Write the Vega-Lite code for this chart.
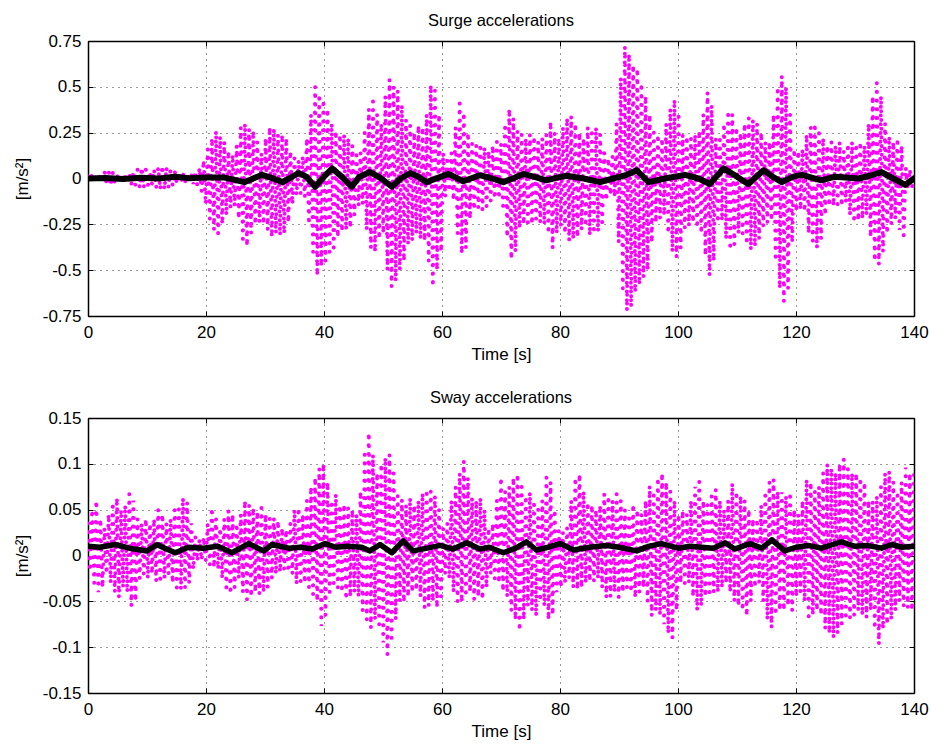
{
  "$schema": "https://vega.github.io/schema/vega-lite/v6.json",
  "background": "white",
  "padding": {"left": 13, "top": 12, "right": 10, "bottom": 5},
  "spacing": 27,
  "datasets": {
    "surge": [
      {"t":0,"v":0.01},{"t":0.35,"v":-0.01},{"t":0.7,"v":0.02},{"t":1.05,"v":-0.01},{"t":1.4,"v":0.02},{"t":1.75,"v":-0.02},{"t":2.1,"v":0.03},{"t":2.45,"v":-0.02},{"t":2.8,"v":0.04},{"t":3.15,"v":-0.03},
      {"t":3.5,"v":0.04},{"t":3.85,"v":-0.04},{"t":4.2,"v":0.03},{"t":4.55,"v":-0.03},{"t":4.9,"v":0.03},{"t":5.25,"v":-0.02},{"t":5.6,"v":0.02},{"t":5.95,"v":-0.02},{"t":6.3,"v":0.03},{"t":6.65,"v":-0.02},
      {"t":7,"v":0.03},{"t":7.35,"v":-0.03},{"t":7.7,"v":0.04},{"t":8.05,"v":-0.04},{"t":8.4,"v":0.05},{"t":8.75,"v":-0.05},{"t":9.1,"v":0.06},{"t":9.45,"v":-0.05},{"t":9.8,"v":0.05},{"t":10.15,"v":-0.04},
      {"t":10.5,"v":0.04},{"t":10.85,"v":-0.03},{"t":11.2,"v":0.05},{"t":11.55,"v":-0.05},{"t":11.9,"v":0.06},{"t":12.25,"v":-0.06},{"t":12.6,"v":0.07},{"t":12.95,"v":-0.06},{"t":13.3,"v":0.06},{"t":13.65,"v":-0.05},
      {"t":14,"v":0.05},{"t":14.35,"v":-0.04},{"t":14.7,"v":0.04},{"t":15.05,"v":-0.03},{"t":15.4,"v":0.03},{"t":15.75,"v":-0.02},{"t":16.1,"v":0.03},{"t":16.45,"v":-0.02},{"t":16.8,"v":0.02},{"t":17.15,"v":-0.02},
      {"t":17.5,"v":0.03},{"t":17.85,"v":-0.03},{"t":18.2,"v":0.04},{"t":18.55,"v":-0.04},{"t":18.9,"v":0.06},{"t":19.25,"v":-0.07},{"t":19.6,"v":0.1},{"t":19.95,"v":-0.14},{"t":20.3,"v":0.16},{"t":20.65,"v":-0.22},
      {"t":21,"v":0.22},{"t":21.35,"v":-0.28},{"t":21.7,"v":0.26},{"t":22.05,"v":-0.3},{"t":22.4,"v":0.23},{"t":22.75,"v":-0.25},{"t":23.1,"v":0.2},{"t":23.45,"v":-0.2},{"t":23.8,"v":0.15},{"t":24.15,"v":-0.16},
      {"t":24.5,"v":0.13},{"t":24.85,"v":-0.15},{"t":25.2,"v":0.18},{"t":25.55,"v":-0.22},{"t":25.9,"v":0.28},{"t":26.25,"v":-0.33},{"t":26.6,"v":0.3},{"t":26.95,"v":-0.37},{"t":27.3,"v":0.27},{"t":27.65,"v":-0.3},
      {"t":28,"v":0.26},{"t":28.35,"v":-0.25},{"t":28.7,"v":0.2},{"t":29.05,"v":-0.24},{"t":29.4,"v":0.14},{"t":29.75,"v":-0.25},{"t":30.1,"v":0.22},{"t":30.45,"v":-0.28},{"t":30.8,"v":0.28},{"t":31.15,"v":-0.32},
      {"t":31.5,"v":0.27},{"t":31.85,"v":-0.3},{"t":32.2,"v":0.24},{"t":32.55,"v":-0.31},{"t":32.9,"v":0.24},{"t":33.25,"v":-0.3},{"t":33.6,"v":0.22},{"t":33.95,"v":-0.24},{"t":34.3,"v":0.15},{"t":34.65,"v":-0.14},
      {"t":35,"v":0.11},{"t":35.35,"v":-0.09},{"t":35.7,"v":0.1},{"t":36.05,"v":-0.08},{"t":36.4,"v":0.12},{"t":36.75,"v":-0.1},{"t":37.1,"v":0.22},{"t":37.45,"v":-0.25},{"t":37.8,"v":0.35},{"t":38.15,"v":-0.4},
      {"t":38.5,"v":0.5},{"t":38.85,"v":-0.53},{"t":39.2,"v":0.46},{"t":39.55,"v":-0.48},{"t":39.9,"v":0.43},{"t":40.25,"v":-0.45},{"t":40.6,"v":0.38},{"t":40.95,"v":-0.4},{"t":41.3,"v":0.3},{"t":41.65,"v":-0.4},
      {"t":42,"v":0.26},{"t":42.35,"v":-0.32},{"t":42.7,"v":0.24},{"t":43.05,"v":-0.29},{"t":43.4,"v":0.24},{"t":43.75,"v":-0.28},{"t":44.1,"v":0.22},{"t":44.45,"v":-0.27},{"t":44.8,"v":0.18},{"t":45.15,"v":-0.2},
      {"t":45.5,"v":0.15},{"t":45.85,"v":-0.15},{"t":46.2,"v":0.14},{"t":46.55,"v":-0.14},{"t":46.9,"v":0.25},{"t":47.25,"v":-0.28},{"t":47.6,"v":0.38},{"t":47.95,"v":-0.38},{"t":48.3,"v":0.42},{"t":48.65,"v":-0.4},
      {"t":49,"v":0.35},{"t":49.35,"v":-0.33},{"t":49.7,"v":0.3},{"t":50.05,"v":-0.3},{"t":50.4,"v":0.45},{"t":50.75,"v":-0.5},{"t":51.1,"v":0.54},{"t":51.45,"v":-0.59},{"t":51.8,"v":0.5},{"t":52.15,"v":-0.56},
      {"t":52.5,"v":0.48},{"t":52.85,"v":-0.5},{"t":53.2,"v":0.4},{"t":53.55,"v":-0.45},{"t":53.9,"v":0.32},{"t":54.25,"v":-0.36},{"t":54.6,"v":0.29},{"t":54.95,"v":-0.34},{"t":55.3,"v":0.25},{"t":55.65,"v":-0.3},
      {"t":56,"v":0.29},{"t":56.35,"v":-0.33},{"t":56.7,"v":0.28},{"t":57.05,"v":-0.34},{"t":57.4,"v":0.35},{"t":57.75,"v":-0.45},{"t":58.1,"v":0.51},{"t":58.45,"v":-0.59},{"t":58.8,"v":0.48},{"t":59.15,"v":-0.5},
      {"t":59.5,"v":0.35},{"t":59.85,"v":-0.4},{"t":60.2,"v":0.14},{"t":60.55,"v":-0.1},{"t":60.9,"v":0.12},{"t":61.25,"v":-0.07},{"t":61.6,"v":0.14},{"t":61.95,"v":-0.12},{"t":62.3,"v":0.28},{"t":62.65,"v":-0.3},
      {"t":63,"v":0.41},{"t":63.35,"v":-0.41},{"t":63.7,"v":0.36},{"t":64.05,"v":-0.38},{"t":64.4,"v":0.25},{"t":64.75,"v":-0.22},{"t":65.1,"v":0.19},{"t":65.45,"v":-0.17},{"t":65.8,"v":0.18},{"t":66.15,"v":-0.16},
      {"t":66.5,"v":0.19},{"t":66.85,"v":-0.17},{"t":67.2,"v":0.17},{"t":67.55,"v":-0.15},{"t":67.9,"v":0.15},{"t":68.25,"v":-0.12},{"t":68.6,"v":0.18},{"t":68.95,"v":-0.11},{"t":69.3,"v":0.2},{"t":69.65,"v":-0.11},
      {"t":70,"v":0.19},{"t":70.35,"v":-0.15},{"t":70.7,"v":0.3},{"t":71.05,"v":-0.32},{"t":71.4,"v":0.38},{"t":71.75,"v":-0.44},{"t":72.1,"v":0.33},{"t":72.45,"v":-0.4},{"t":72.8,"v":0.26},{"t":73.15,"v":-0.27},
      {"t":73.5,"v":0.24},{"t":73.85,"v":-0.25},{"t":74.2,"v":0.22},{"t":74.55,"v":-0.24},{"t":74.9,"v":0.24},{"t":75.25,"v":-0.25},{"t":75.6,"v":0.23},{"t":75.95,"v":-0.22},{"t":76.3,"v":0.2},{"t":76.65,"v":-0.24},
      {"t":77,"v":0.22},{"t":77.35,"v":-0.25},{"t":77.7,"v":0.24},{"t":78.05,"v":-0.3},{"t":78.4,"v":0.31},{"t":78.75,"v":-0.38},{"t":79.1,"v":0.25},{"t":79.45,"v":-0.3},{"t":79.8,"v":0.22},{"t":80.15,"v":-0.26},
      {"t":80.5,"v":0.28},{"t":80.85,"v":-0.3},{"t":81.2,"v":0.33},{"t":81.55,"v":-0.34},{"t":81.9,"v":0.34},{"t":82.25,"v":-0.33},{"t":82.6,"v":0.3},{"t":82.95,"v":-0.32},{"t":83.3,"v":0.25},{"t":83.65,"v":-0.28},
      {"t":84,"v":0.22},{"t":84.35,"v":-0.26},{"t":84.7,"v":0.28},{"t":85.05,"v":-0.31},{"t":85.4,"v":0.27},{"t":85.75,"v":-0.3},{"t":86.1,"v":0.28},{"t":86.45,"v":-0.29},{"t":86.8,"v":0.24},{"t":87.15,"v":-0.24},
      {"t":87.5,"v":0.14},{"t":87.85,"v":-0.12},{"t":88.2,"v":0.11},{"t":88.55,"v":-0.09},{"t":88.9,"v":0.12},{"t":89.25,"v":-0.1},{"t":89.6,"v":0.3},{"t":89.95,"v":-0.35},{"t":90.3,"v":0.55},{"t":90.65,"v":-0.6},
      {"t":91,"v":0.72},{"t":91.35,"v":-0.72},{"t":91.7,"v":0.68},{"t":92.05,"v":-0.7},{"t":92.4,"v":0.62},{"t":92.75,"v":-0.62},{"t":93.1,"v":0.6},{"t":93.45,"v":-0.58},{"t":93.8,"v":0.52},{"t":94.15,"v":-0.54},
      {"t":94.5,"v":0.45},{"t":94.85,"v":-0.5},{"t":95.2,"v":0.35},{"t":95.55,"v":-0.35},{"t":95.9,"v":0.25},{"t":96.25,"v":-0.24},{"t":96.6,"v":0.24},{"t":96.95,"v":-0.22},{"t":97.3,"v":0.22},{"t":97.65,"v":-0.2},
      {"t":98,"v":0.3},{"t":98.35,"v":-0.3},{"t":98.7,"v":0.38},{"t":99.05,"v":-0.4},{"t":99.4,"v":0.43},{"t":99.75,"v":-0.43},{"t":100.1,"v":0.36},{"t":100.45,"v":-0.38},{"t":100.8,"v":0.24},{"t":101.15,"v":-0.27},
      {"t":101.5,"v":0.23},{"t":101.85,"v":-0.26},{"t":102.2,"v":0.22},{"t":102.55,"v":-0.24},{"t":102.9,"v":0.24},{"t":103.25,"v":-0.27},{"t":103.6,"v":0.26},{"t":103.95,"v":-0.3},{"t":104.3,"v":0.35},{"t":104.65,"v":-0.42},
      {"t":105,"v":0.47},{"t":105.35,"v":-0.53},{"t":105.7,"v":0.4},{"t":106.05,"v":-0.45},{"t":106.4,"v":0.22},{"t":106.75,"v":-0.24},{"t":107.1,"v":0.21},{"t":107.45,"v":-0.23},{"t":107.8,"v":0.3},{"t":108.15,"v":-0.33},
      {"t":108.5,"v":0.37},{"t":108.85,"v":-0.39},{"t":109.2,"v":0.35},{"t":109.55,"v":-0.36},{"t":109.9,"v":0.28},{"t":110.25,"v":-0.3},{"t":110.6,"v":0.25},{"t":110.95,"v":-0.3},{"t":111.3,"v":0.3},{"t":111.65,"v":-0.36},
      {"t":112,"v":0.33},{"t":112.35,"v":-0.39},{"t":112.7,"v":0.32},{"t":113.05,"v":-0.37},{"t":113.4,"v":0.3},{"t":113.75,"v":-0.33},{"t":114.1,"v":0.25},{"t":114.45,"v":-0.26},{"t":114.8,"v":0.2},{"t":115.15,"v":-0.24},
      {"t":115.5,"v":0.2},{"t":115.85,"v":-0.23},{"t":116.2,"v":0.35},{"t":116.55,"v":-0.45},{"t":116.9,"v":0.5},{"t":117.25,"v":-0.6},{"t":117.6,"v":0.56},{"t":117.95,"v":-0.67},{"t":118.3,"v":0.5},{"t":118.65,"v":-0.6},
      {"t":119,"v":0.35},{"t":119.35,"v":-0.35},{"t":119.7,"v":0.16},{"t":120.05,"v":-0.18},{"t":120.4,"v":0.15},{"t":120.75,"v":-0.17},{"t":121.1,"v":0.16},{"t":121.45,"v":-0.18},{"t":121.8,"v":0.24},{"t":122.15,"v":-0.3},
      {"t":122.5,"v":0.28},{"t":122.85,"v":-0.34},{"t":123.2,"v":0.3},{"t":123.55,"v":-0.38},{"t":123.9,"v":0.27},{"t":124.25,"v":-0.33},{"t":124.6,"v":0.22},{"t":124.95,"v":-0.2},{"t":125.3,"v":0.18},{"t":125.65,"v":-0.15},
      {"t":126,"v":0.2},{"t":126.35,"v":-0.15},{"t":126.7,"v":0.18},{"t":127.05,"v":-0.14},{"t":127.4,"v":0.2},{"t":127.75,"v":-0.15},{"t":128.1,"v":0.15},{"t":128.45,"v":-0.13},{"t":128.8,"v":0.19},{"t":129.15,"v":-0.2},
      {"t":129.5,"v":0.2},{"t":129.85,"v":-0.24},{"t":130.2,"v":0.19},{"t":130.55,"v":-0.23},{"t":130.9,"v":0.2},{"t":131.25,"v":-0.22},{"t":131.6,"v":0.18},{"t":131.95,"v":-0.2},{"t":132.3,"v":0.3},{"t":132.65,"v":-0.32},
      {"t":133,"v":0.45},{"t":133.35,"v":-0.45},{"t":133.7,"v":0.52},{"t":134.05,"v":-0.47},{"t":134.4,"v":0.45},{"t":134.75,"v":-0.4},{"t":135.1,"v":0.3},{"t":135.45,"v":-0.3},{"t":135.8,"v":0.23},{"t":136.15,"v":-0.25},
      {"t":136.5,"v":0.2},{"t":136.85,"v":-0.22},{"t":137.2,"v":0.22},{"t":137.55,"v":-0.28},{"t":137.9,"v":0.18},{"t":138.25,"v":-0.31},{"t":138.6,"v":0.06},{"t":138.95,"v":-0.06},{"t":139.3,"v":0.05},{"t":139.65,"v":-0.05},
      {"t":140,"v":0.04}
    ],
    "surgeLF": [
      {"t":0,"v":0},{"t":3,"v":0.003},{"t":6,"v":-0.003},{"t":9,"v":0.004},{"t":12,"v":0},{"t":14.8,"v":0.01},{"t":17,"v":0.002},{"t":20,"v":0.005},{"t":23,"v":0.006},{"t":26.5,"v":-0.02},
      {"t":28,"v":0},{"t":29.5,"v":0.02},{"t":31,"v":0.005},{"t":33,"v":-0.02},{"t":35.7,"v":0.03},{"t":37,"v":0.01},{"t":38.5,"v":-0.045},{"t":40,"v":0.01},{"t":41.4,"v":0.055},{"t":43,"v":0.01},
      {"t":44.7,"v":-0.045},{"t":46,"v":0.01},{"t":47.8,"v":0.035},{"t":49.5,"v":0.005},{"t":51.5,"v":-0.045},{"t":53,"v":0},{"t":54.6,"v":0.03},{"t":56,"v":0.01},{"t":57.4,"v":-0.02},{"t":59,"v":0},
      {"t":61.1,"v":0.025},{"t":63.6,"v":-0.015},{"t":66.4,"v":0.018},{"t":68.5,"v":0},{"t":70.4,"v":-0.02},{"t":72,"v":0},{"t":73.8,"v":0.025},{"t":75.5,"v":0.01},{"t":77.7,"v":-0.01},{"t":79.5,"v":0.005},
      {"t":81.1,"v":0.015},{"t":84,"v":0},{"t":86.8,"v":-0.02},{"t":89,"v":0},{"t":91.3,"v":0.02},{"t":93,"v":0.045},{"t":95,"v":-0.02},{"t":97.8,"v":0},{"t":101.2,"v":0.02},{"t":103.5,"v":0},
      {"t":105.4,"v":-0.03},{"t":107.7,"v":0.055},{"t":110,"v":0.01},{"t":111.9,"v":-0.03},{"t":114.5,"v":0.045},{"t":116,"v":0.01},{"t":117.6,"v":-0.02},{"t":119.5,"v":0.01},{"t":121,"v":0.02},{"t":124.3,"v":-0.01},
      {"t":126.6,"v":0.01},{"t":130.6,"v":0},{"t":132.5,"v":0.015},{"t":134.5,"v":0.035},{"t":136.5,"v":0},{"t":138.5,"v":-0.035},{"t":140,"v":0}
    ],
    "sway": [
      {"t":0,"v":0.035},{"t":0.35,"v":-0.017},{"t":0.7,"v":0.05},{"t":1.05,"v":-0.03},{"t":1.4,"v":0.06},{"t":1.75,"v":-0.04},{"t":2.1,"v":0.04},{"t":2.45,"v":-0.035},{"t":2.8,"v":0.03},{"t":3.15,"v":-0.02},
      {"t":3.5,"v":0.045},{"t":3.85,"v":-0.03},{"t":4.2,"v":0.058},{"t":4.55,"v":-0.04},{"t":4.9,"v":0.063},{"t":5.25,"v":-0.046},{"t":5.6,"v":0.05},{"t":5.95,"v":-0.035},{"t":6.3,"v":0.055},{"t":6.65,"v":-0.04},
      {"t":7,"v":0.067},{"t":7.35,"v":-0.055},{"t":7.7,"v":0.06},{"t":8.05,"v":-0.05},{"t":8.4,"v":0.04},{"t":8.75,"v":-0.025},{"t":9.1,"v":0.035},{"t":9.45,"v":-0.02},{"t":9.8,"v":0.04},{"t":10.15,"v":-0.025},
      {"t":10.5,"v":0.035},{"t":10.85,"v":-0.02},{"t":11.2,"v":0.04},{"t":11.55,"v":-0.028},{"t":11.9,"v":0.05},{"t":12.25,"v":-0.03},{"t":12.6,"v":0.045},{"t":12.95,"v":-0.025},{"t":13.3,"v":0.035},{"t":13.65,"v":-0.02},
      {"t":14,"v":0.04},{"t":14.35,"v":-0.03},{"t":14.7,"v":0.05},{"t":15.05,"v":-0.035},{"t":15.4,"v":0.055},{"t":15.75,"v":-0.037},{"t":16.1,"v":0.063},{"t":16.45,"v":-0.035},{"t":16.8,"v":0.058},{"t":17.15,"v":-0.03},
      {"t":17.5,"v":0.035},{"t":17.85,"v":-0.015},{"t":18.2,"v":0.02},{"t":18.55,"v":-0.006},{"t":18.9,"v":0.018},{"t":19.25,"v":-0.005},{"t":19.6,"v":0.02},{"t":19.95,"v":-0.005},{"t":20.3,"v":0.035},{"t":20.65,"v":-0.01},
      {"t":21,"v":0.052},{"t":21.35,"v":-0.013},{"t":21.7,"v":0.04},{"t":22.05,"v":-0.015},{"t":22.4,"v":0.03},{"t":22.75,"v":-0.025},{"t":23.1,"v":0.04},{"t":23.45,"v":-0.035},{"t":23.8,"v":0.049},{"t":24.15,"v":-0.042},
      {"t":24.5,"v":0.045},{"t":24.85,"v":-0.035},{"t":25.2,"v":0.035},{"t":25.55,"v":-0.025},{"t":25.9,"v":0.045},{"t":26.25,"v":-0.04},{"t":26.6,"v":0.06},{"t":26.95,"v":-0.048},{"t":27.3,"v":0.055},{"t":27.65,"v":-0.045},
      {"t":28,"v":0.052},{"t":28.35,"v":-0.04},{"t":28.7,"v":0.048},{"t":29.05,"v":-0.042},{"t":29.4,"v":0.052},{"t":29.75,"v":-0.04},{"t":30.1,"v":0.045},{"t":30.45,"v":-0.035},{"t":30.8,"v":0.04},{"t":31.15,"v":-0.025},
      {"t":31.5,"v":0.041},{"t":31.85,"v":-0.02},{"t":32.2,"v":0.038},{"t":32.55,"v":-0.018},{"t":32.9,"v":0.03},{"t":33.25,"v":-0.015},{"t":33.6,"v":0.028},{"t":33.95,"v":-0.018},{"t":34.3,"v":0.035},{"t":34.65,"v":-0.02},
      {"t":35,"v":0.05},{"t":35.35,"v":-0.031},{"t":35.7,"v":0.052},{"t":36.05,"v":-0.028},{"t":36.4,"v":0.045},{"t":36.75,"v":-0.03},{"t":37.1,"v":0.06},{"t":37.45,"v":-0.035},{"t":37.8,"v":0.075},{"t":38.15,"v":-0.042},
      {"t":38.5,"v":0.085},{"t":38.85,"v":-0.05},{"t":39.2,"v":0.095},{"t":39.55,"v":-0.077},{"t":39.9,"v":0.1},{"t":40.25,"v":-0.065},{"t":40.6,"v":0.08},{"t":40.95,"v":-0.04},{"t":41.3,"v":0.06},{"t":41.65,"v":-0.03},
      {"t":42,"v":0.067},{"t":42.35,"v":-0.035},{"t":42.7,"v":0.055},{"t":43.05,"v":-0.04},{"t":43.4,"v":0.056},{"t":43.75,"v":-0.048},{"t":44.1,"v":0.052},{"t":44.45,"v":-0.045},{"t":44.8,"v":0.05},{"t":45.15,"v":-0.04},
      {"t":45.5,"v":0.045},{"t":45.85,"v":-0.045},{"t":46.2,"v":0.07},{"t":46.55,"v":-0.06},{"t":46.9,"v":0.11},{"t":47.25,"v":-0.07},{"t":47.6,"v":0.134},{"t":47.95,"v":-0.079},{"t":48.3,"v":0.11},{"t":48.65,"v":-0.07},
      {"t":49,"v":0.09},{"t":49.35,"v":-0.075},{"t":49.7,"v":0.1},{"t":50.05,"v":-0.095},{"t":50.4,"v":0.107},{"t":50.75,"v":-0.108},{"t":51.1,"v":0.11},{"t":51.45,"v":-0.09},{"t":51.8,"v":0.09},{"t":52.15,"v":-0.07},
      {"t":52.5,"v":0.065},{"t":52.85,"v":-0.05},{"t":53.2,"v":0.061},{"t":53.55,"v":-0.051},{"t":53.9,"v":0.055},{"t":54.25,"v":-0.045},{"t":54.6,"v":0.063},{"t":54.95,"v":-0.04},{"t":55.3,"v":0.055},{"t":55.65,"v":-0.038},
      {"t":56,"v":0.06},{"t":56.35,"v":-0.045},{"t":56.7,"v":0.068},{"t":57.05,"v":-0.057},{"t":57.4,"v":0.072},{"t":57.75,"v":-0.055},{"t":58.1,"v":0.07},{"t":58.45,"v":-0.05},{"t":58.8,"v":0.065},{"t":59.15,"v":-0.057},
      {"t":59.5,"v":0.05},{"t":59.85,"v":-0.045},{"t":60.2,"v":0.03},{"t":60.55,"v":-0.02},{"t":60.9,"v":0.035},{"t":61.25,"v":-0.025},{"t":61.6,"v":0.06},{"t":61.95,"v":-0.04},{"t":62.3,"v":0.075},{"t":62.65,"v":-0.05},
      {"t":63,"v":0.09},{"t":63.35,"v":-0.051},{"t":63.7,"v":0.103},{"t":64.05,"v":-0.045},{"t":64.4,"v":0.085},{"t":64.75,"v":-0.04},{"t":65.1,"v":0.063},{"t":65.45,"v":-0.048},{"t":65.8,"v":0.06},{"t":66.15,"v":-0.045},
      {"t":66.5,"v":0.063},{"t":66.85,"v":-0.048},{"t":67.2,"v":0.05},{"t":67.55,"v":-0.035},{"t":67.9,"v":0.03},{"t":68.25,"v":-0.02},{"t":68.6,"v":0.035},{"t":68.95,"v":-0.025},{"t":69.3,"v":0.06},{"t":69.65,"v":-0.03},
      {"t":70,"v":0.085},{"t":70.35,"v":-0.039},{"t":70.7,"v":0.07},{"t":71.05,"v":-0.045},{"t":71.4,"v":0.075},{"t":71.75,"v":-0.06},{"t":72.1,"v":0.085},{"t":72.45,"v":-0.07},{"t":72.8,"v":0.089},{"t":73.15,"v":-0.082},
      {"t":73.5,"v":0.075},{"t":73.85,"v":-0.07},{"t":74.2,"v":0.065},{"t":74.55,"v":-0.055},{"t":74.9,"v":0.069},{"t":75.25,"v":-0.06},{"t":75.6,"v":0.06},{"t":75.95,"v":-0.066},{"t":76.3,"v":0.05},{"t":76.65,"v":-0.05},
      {"t":77,"v":0.06},{"t":77.35,"v":-0.055},{"t":77.7,"v":0.085},{"t":78.05,"v":-0.07},{"t":78.4,"v":0.08},{"t":78.75,"v":-0.065},{"t":79.1,"v":0.05},{"t":79.45,"v":-0.04},{"t":79.8,"v":0.027},{"t":80.15,"v":-0.035},
      {"t":80.5,"v":0.025},{"t":80.85,"v":-0.03},{"t":81.2,"v":0.03},{"t":81.55,"v":-0.025},{"t":81.9,"v":0.06},{"t":82.25,"v":-0.035},{"t":82.6,"v":0.085},{"t":82.95,"v":-0.037},{"t":83.3,"v":0.089},{"t":83.65,"v":-0.035},
      {"t":84,"v":0.07},{"t":84.35,"v":-0.03},{"t":84.7,"v":0.058},{"t":85.05,"v":-0.028},{"t":85.4,"v":0.055},{"t":85.75,"v":-0.028},{"t":86.1,"v":0.05},{"t":86.45,"v":-0.025},{"t":86.8,"v":0.055},{"t":87.15,"v":-0.035},
      {"t":87.5,"v":0.067},{"t":87.85,"v":-0.046},{"t":88.2,"v":0.065},{"t":88.55,"v":-0.045},{"t":88.9,"v":0.06},{"t":89.25,"v":-0.04},{"t":89.6,"v":0.067},{"t":89.95,"v":-0.046},{"t":90.3,"v":0.06},{"t":90.65,"v":-0.04},
      {"t":91,"v":0.05},{"t":91.35,"v":-0.035},{"t":91.7,"v":0.045},{"t":92.05,"v":-0.04},{"t":92.4,"v":0.056},{"t":92.75,"v":-0.046},{"t":93.1,"v":0.05},{"t":93.45,"v":-0.04},{"t":93.8,"v":0.045},{"t":94.15,"v":-0.035},
      {"t":94.5,"v":0.06},{"t":94.85,"v":-0.05},{"t":95.2,"v":0.076},{"t":95.55,"v":-0.066},{"t":95.9,"v":0.07},{"t":96.25,"v":-0.06},{"t":96.6,"v":0.085},{"t":96.95,"v":-0.065},{"t":97.3,"v":0.09},{"t":97.65,"v":-0.075},
      {"t":98,"v":0.08},{"t":98.35,"v":-0.085},{"t":98.7,"v":0.07},{"t":99.05,"v":-0.09},{"t":99.4,"v":0.06},{"t":99.75,"v":-0.06},{"t":100.1,"v":0.045},{"t":100.45,"v":-0.03},{"t":100.8,"v":0.049},{"t":101.15,"v":-0.03},
      {"t":101.5,"v":0.045},{"t":101.85,"v":-0.03},{"t":102.2,"v":0.06},{"t":102.55,"v":-0.045},{"t":102.9,"v":0.075},{"t":103.25,"v":-0.06},{"t":103.6,"v":0.085},{"t":103.95,"v":-0.055},{"t":104.3,"v":0.06},{"t":104.65,"v":-0.045},
      {"t":105,"v":0.055},{"t":105.35,"v":-0.04},{"t":105.7,"v":0.065},{"t":106.05,"v":-0.04},{"t":106.4,"v":0.072},{"t":106.75,"v":-0.04},{"t":107.1,"v":0.06},{"t":107.45,"v":-0.035},{"t":107.8,"v":0.05},{"t":108.15,"v":-0.03},
      {"t":108.5,"v":0.06},{"t":108.85,"v":-0.04},{"t":109.2,"v":0.079},{"t":109.55,"v":-0.05},{"t":109.9,"v":0.07},{"t":110.25,"v":-0.055},{"t":110.6,"v":0.065},{"t":110.95,"v":-0.06},{"t":111.3,"v":0.06},{"t":111.65,"v":-0.066},
      {"t":112,"v":0.05},{"t":112.35,"v":-0.05},{"t":112.7,"v":0.04},{"t":113.05,"v":-0.035},{"t":113.4,"v":0.04},{"t":113.75,"v":-0.03},{"t":114.1,"v":0.055},{"t":114.45,"v":-0.05},{"t":114.8,"v":0.07},{"t":115.15,"v":-0.07},
      {"t":115.5,"v":0.08},{"t":115.85,"v":-0.079},{"t":116.2,"v":0.083},{"t":116.55,"v":-0.065},{"t":116.9,"v":0.07},{"t":117.25,"v":-0.06},{"t":117.6,"v":0.069},{"t":117.95,"v":-0.06},{"t":118.3,"v":0.065},{"t":118.65,"v":-0.055},
      {"t":119,"v":0.069},{"t":119.35,"v":-0.06},{"t":119.7,"v":0.05},{"t":120.05,"v":-0.045},{"t":120.4,"v":0.045},{"t":120.75,"v":-0.04},{"t":121.1,"v":0.06},{"t":121.45,"v":-0.05},{"t":121.8,"v":0.083},{"t":122.15,"v":-0.071},
      {"t":122.5,"v":0.08},{"t":122.85,"v":-0.065},{"t":123.2,"v":0.07},{"t":123.55,"v":-0.06},{"t":123.9,"v":0.075},{"t":124.25,"v":-0.065},{"t":124.6,"v":0.09},{"t":124.95,"v":-0.08},{"t":125.3,"v":0.1},{"t":125.65,"v":-0.085},
      {"t":126,"v":0.095},{"t":126.35,"v":-0.09},{"t":126.7,"v":0.09},{"t":127.05,"v":-0.085},{"t":127.4,"v":0.1},{"t":127.75,"v":-0.075},{"t":128.1,"v":0.105},{"t":128.45,"v":-0.07},{"t":128.8,"v":0.095},{"t":129.15,"v":-0.068},
      {"t":129.5,"v":0.09},{"t":129.85,"v":-0.065},{"t":130.2,"v":0.09},{"t":130.55,"v":-0.06},{"t":130.9,"v":0.085},{"t":131.25,"v":-0.065},{"t":131.6,"v":0.08},{"t":131.95,"v":-0.068},{"t":132.3,"v":0.06},{"t":132.65,"v":-0.06},
      {"t":133,"v":0.059},{"t":133.35,"v":-0.08},{"t":133.7,"v":0.065},{"t":134.05,"v":-0.097},{"t":134.4,"v":0.075},{"t":134.75,"v":-0.08},{"t":135.1,"v":0.09},{"t":135.45,"v":-0.075},{"t":135.8,"v":0.092},{"t":136.15,"v":-0.07},
      {"t":136.5,"v":0.08},{"t":136.85,"v":-0.06},{"t":137.2,"v":0.07},{"t":137.55,"v":-0.05},{"t":137.9,"v":0.08},{"t":138.25,"v":-0.055},{"t":138.6,"v":0.096},{"t":138.95,"v":-0.057},{"t":139.3,"v":0.09},{"t":139.65,"v":-0.06},
      {"t":140,"v":0.09}
    ],
    "swayLF": [
      {"t":0,"v":0.01},{"t":2,"v":0.009},{"t":4.6,"v":0.012},{"t":7,"v":0.008},{"t":10,"v":0.005},{"t":11.7,"v":0.012},{"t":13,"v":0.008},{"t":14.8,"v":0.003},{"t":17,"v":0.009},{"t":19.5,"v":0.008},
      {"t":22,"v":0.01},{"t":24.4,"v":0.003},{"t":27.2,"v":0.013},{"t":29.8,"v":0.005},{"t":31.2,"v":0.012},{"t":34,"v":0.008},{"t":36,"v":0.009},{"t":38,"v":0.007},{"t":40.2,"v":0.013},{"t":42,"v":0.009},
      {"t":44,"v":0.01},{"t":46.4,"v":0.009},{"t":47.8,"v":0.005},{"t":49.5,"v":0.012},{"t":51.5,"v":0.003},{"t":53.4,"v":0.016},{"t":55.1,"v":0.005},{"t":57.5,"v":0.008},{"t":59.7,"v":0.011},{"t":61.9,"v":0.007},
      {"t":64.2,"v":0.014},{"t":66.4,"v":0.007},{"t":68,"v":0.009},{"t":70.4,"v":0.003},{"t":72.5,"v":0.008},{"t":74.3,"v":0.015},{"t":76,"v":0.006},{"t":78,"v":0.009},{"t":80,"v":0.013},{"t":82.3,"v":0.006},
      {"t":85,"v":0.009},{"t":87.9,"v":0.011},{"t":90,"v":0.009},{"t":93,"v":0.005},{"t":95,"v":0.01},{"t":97.2,"v":0.013},{"t":100,"v":0.008},{"t":102,"v":0.01},{"t":104,"v":0.009},{"t":106,"v":0.008},
      {"t":108,"v":0.014},{"t":109.6,"v":0.007},{"t":112.2,"v":0.013},{"t":114.2,"v":0.008},{"t":115.9,"v":0.017},{"t":118.1,"v":0.005},{"t":120,"v":0.009},{"t":122.1,"v":0.011},{"t":124.3,"v":0.008},{"t":127.7,"v":0.015},
      {"t":130,"v":0.01},{"t":132,"v":0.011},{"t":134.5,"v":0.008},{"t":136.2,"v":0.012},{"t":138,"v":0.009},{"t":140,"v":0.01}
    ]
  },
  "vconcat": [
    {
      "title": {"text": "Surge accelerations", "frame": "group", "offset": 3},
      "width": 826,
      "height": 275,
      "resolve": {"axis": {"x": "independent", "y": "independent"}},
      "layer": [
        {
          "data": {"name": "surge"},
          "mark": {"type": "line", "color": "#FF00FF", "strokeWidth": 3.9, "strokeDash": [0.1, 8.6], "strokeCap": "round", "clip": true},
          "encoding": {
            "x": {"field": "t", "type": "quantitative", "scale": {"domain": [0, 140], "nice": false, "zero": false},
                  "axis": {"orient": "bottom", "title": "Time [s]", "values": [0,20,40,60,80,100,120,140], "grid": true, "labelPadding": 13, "tickSize": -5, "labelExpr": "'' + datum.value"}},
            "y": {"field": "v", "type": "quantitative", "scale": {"domain": [-0.75, 0.75], "nice": false, "zero": false},
                  "axis": {"orient": "left", "title": "[m/s²]", "values": [-0.75,-0.5,-0.25,0,0.25,0.5,0.75], "grid": true, "labelPadding": 12, "tickSize": -5, "titlePadding": 11, "labelExpr": "'' + datum.value"}}
          }
        },
        {
          "data": {"name": "surgeLF"},
          "mark": {"type": "line", "color": "black", "strokeWidth": 6, "strokeJoin": "round", "strokeCap": "round", "clip": true},
          "encoding": {
            "x": {"field": "t", "type": "quantitative",
                  "axis": {"orient": "top", "title": null, "labels": false, "grid": false, "values": [0,20,40,60,80,100,120,140], "tickSize": -5}},
            "y": {"field": "v", "type": "quantitative",
                  "axis": {"orient": "right", "title": null, "labels": false, "grid": false, "values": [-0.75,-0.5,-0.25,0,0.25,0.5,0.75], "tickSize": -5}}
          }
        }
      ]
    },
    {
      "title": {"text": "Sway accelerations", "frame": "group", "offset": 3},
      "width": 826,
      "height": 275,
      "resolve": {"axis": {"x": "independent", "y": "independent"}},
      "layer": [
        {
          "data": {"name": "sway"},
          "mark": {"type": "line", "color": "#FF00FF", "strokeWidth": 3.9, "strokeDash": [0.1, 8.6], "strokeCap": "round", "clip": true},
          "encoding": {
            "x": {"field": "t", "type": "quantitative", "scale": {"domain": [0, 140], "nice": false, "zero": false},
                  "axis": {"orient": "bottom", "title": "Time [s]", "values": [0,20,40,60,80,100,120,140], "grid": true, "labelPadding": 13, "tickSize": -5, "labelExpr": "'' + datum.value"}},
            "y": {"field": "v", "type": "quantitative", "scale": {"domain": [-0.15, 0.15], "nice": false, "zero": false},
                  "axis": {"orient": "left", "title": "[m/s²]", "values": [-0.15,-0.1,-0.05,0,0.05,0.1,0.15], "grid": true, "labelPadding": 12, "tickSize": -5, "titlePadding": 11, "labelExpr": "'' + datum.value"}}
          }
        },
        {
          "data": {"name": "swayLF"},
          "mark": {"type": "line", "color": "black", "strokeWidth": 5.5, "strokeJoin": "round", "strokeCap": "round", "clip": true},
          "encoding": {
            "x": {"field": "t", "type": "quantitative",
                  "axis": {"orient": "top", "title": null, "labels": false, "grid": false, "values": [0,20,40,60,80,100,120,140], "tickSize": -5}},
            "y": {"field": "v", "type": "quantitative",
                  "axis": {"orient": "right", "title": null, "labels": false, "grid": false, "values": [-0.15,-0.1,-0.05,0,0.05,0.1,0.15], "tickSize": -5}}
          }
        }
      ]
    }
  ],
  "config": {
    "font": "Liberation Sans",
    "view": {"stroke": null},
    "title": {"fontSize": 16.5, "fontWeight": "normal", "color": "black", "anchor": "middle"},
    "axis": {
      "labelFontSize": 17, "titleFontSize": 17, "titleFontWeight": "normal", "labelColor": "black", "titleColor": "black",
      "domainColor": "black", "domainWidth": 1.5, "tickColor": "black", "tickWidth": 1,
      "gridColor": "#333", "gridDash": [1, 5], "gridWidth": 1, "gridOpacity": 1,
      "labelFlush": false, "labelOverlap": false, "titlePadding": 6
    }
  }
}
